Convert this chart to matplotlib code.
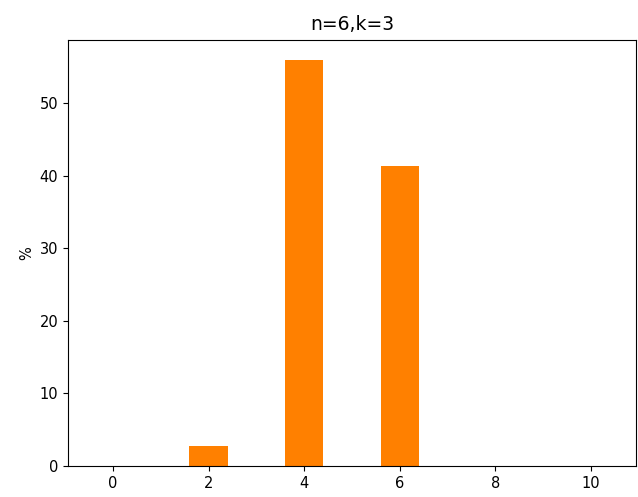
import numpy as np
import matplotlib.pyplot as plt

# share of outcomes (%) for n=6, k=3
counts = [0, 2, 4, 6, 8, 10]
percent = [0.0, 2.7, 55.9, 41.3, 0.0, 0.0]

fig = plt.figure(figsize=(6.38, 4.97), dpi=100)
ax = fig.add_axes([0.1066, 0.0624, 0.890, 0.857])

ax.bar(counts, percent, width=0.8, color="#ff8000")
ax.set_title("n=6,k=3", fontsize=13.5, pad=7)
ax.set_ylabel("%", fontsize=10.5)
ax.tick_params(labelsize=10.5)

fig.savefig("out.png", dpi=100)
